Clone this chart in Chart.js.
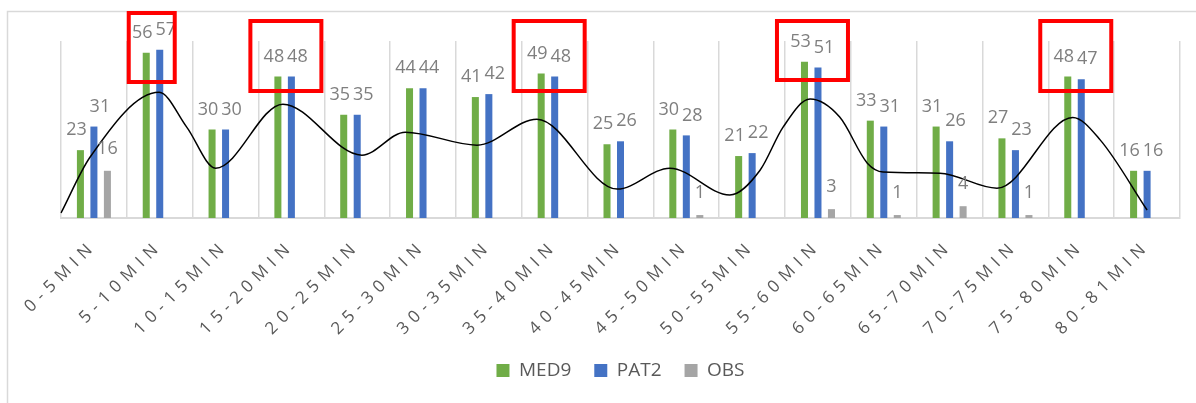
<!DOCTYPE html>
<html>
<head>
<meta charset="utf-8">
<script src="https://cdn.jsdelivr.net/npm/chart.js@4.4.1/dist/chart.umd.min.js"></script>
<style>
    body { margin: 0; background: #fff; }
    canvas { display: block; }
</style>
</head>
<body>
<canvas id="minuteChart" width="1196" height="403"></canvas>
<script>
const categories = ["0-5MIN", "5-10MIN", "10-15MIN", "15-20MIN", "20-25MIN", "25-30MIN",
    "30-35MIN", "35-40MIN", "40-45MIN", "45-50MIN", "50-55MIN", "55-60MIN",
    "60-65MIN", "65-70MIN", "70-75MIN", "75-80MIN", "80-81MIN"];

const med9 = [23, 56, 30, 48, 35, 44, 41, 49, 25, 30, 21, 53, 33, 31, 27, 48, 16];
const pat2 = [31, 57, 30, 48, 35, 44, 42, 48, 26, 28, 22, 51, 31, 26, 23, 47, 16];
const obs = [16, null, null, null, null, null, null, null, null, 1, null, 3, 1, 4, 1, null, null];

// hand drawn curve over the bars (x in category index units)
const curveX = [-0.5, -0.06, 0.99, 1.41, 1.85, 2.87, 4.07, 4.73, 5.82, 6.73, 7.95, 8.75,
    9.66, 10.12, 10.47, 10.88, 11.33, 11.75, 11.99, 12.85, 13.72, 14.87, 15.29, 16];
const curveY = [1.7, 20.6, 42.6, 30.8, 16.9, 38.6, 21.3, 29.1, 24.7, 33.5, 9.8, 16.9,
    7.8, 16.2, 30.8, 40.3, 34.2, 18.6, 15.6, 15.2, 10.1, 34.1, 26.4, 2.7];

const highlighted = ["5-10MIN", "15-20MIN", "35-40MIN", "55-60MIN", "75-80MIN"];

const frame = {
    id: "frame",
    beforeDraw(chart) {
        const ctx = chart.ctx;
        ctx.save();
        ctx.strokeStyle = "#d9d9d9";
        ctx.lineWidth = 1.5;
        ctx.beginPath();
        ctx.moveTo(7.5, chart.height);
        ctx.lineTo(7.5, 11.5);
        ctx.lineTo(chart.width, 11.5);
        ctx.stroke();
        ctx.restore();

        // spaced out tick text like the excel axis
        const x = chart.scales.x;
        if (!x._spaced) {
            const orig = x.drawLabels;
            x.drawLabels = function (area) {
                this.ctx.save();
                this.ctx.letterSpacing = "6px";
                orig.call(this, area);
                this.ctx.restore();
            };
            x._spaced = true;
        }
    }
};

const valueLabels = {
    id: "valueLabels",
    afterDatasetsDraw(chart) {
        const ctx = chart.ctx;
        const shift = [-4, 6, 0];
        const lift = [20, 20, 22];
        ctx.save();
        ctx.font = "18px 'Open Sans'";
        ctx.fillStyle = "#7f7f7f";
        ctx.textAlign = "center";
        ctx.textBaseline = "middle";
        for (let d = 0; d < 3; d++) {
            const meta = chart.getDatasetMeta(d);
            const values = chart.data.datasets[d].data;
            meta.data.forEach((bar, i) => {
                if (values[i] == null) return;
                ctx.fillText(values[i], bar.x + shift[d], bar.y - lift[d]);
            });
        }
        ctx.restore();
    }
};

const redBoxes = {
    id: "redBoxes",
    afterDraw(chart) {
        const ctx = chart.ctx;
        const x = chart.scales.x;
        ctx.save();
        ctx.strokeStyle = "#ff0000";
        ctx.lineWidth = 4;
        highlighted.forEach(label => {
            const i = categories.indexOf(label);
            const c = x.getPixelForValue(i);
            const first = i === 1;
            const left = first ? c - 31 : c - 41;
            const right = first ? c + 15 : c + 30;
            const top = first ? 13 : 21;
            const bottom = first ? 82 : (i === 11 ? 80 : 91);
            ctx.strokeRect(left, top, right - left, bottom - top);
        });
        ctx.restore();
    }
};

const ctx = document.getElementById("minuteChart");

new Chart(ctx, {
    type: "bar",
    data: {
        labels: categories,
        datasets: [
            {
                label: "MED9",
                data: med9,
                backgroundColor: "#70ad47",
                order: 1
            },
            {
                label: "PAT2",
                data: pat2,
                backgroundColor: "#4472c4",
                order: 1
            },
            {
                label: "OBS",
                data: obs,
                backgroundColor: "#a5a5a5",
                order: 1
            },
            {
                type: "line",
                label: "curve",
                // fractional category positions, so no parsing
                parsing: false,
                data: curveX.map((v, i) => ({ x: v, y: curveY[i] })),
                borderColor: "#000",
                borderWidth: 1.5,
                pointRadius: 0,
                cubicInterpolationMode: "monotone",
                order: 0
            }
        ]
    },
    options: {
        responsive: false,
        animation: false,
        layout: {
            padding: { left: 61, right: 16, top: 41, bottom: 13 }
        },
        datasets: {
            bar: {
                categoryPercentage: 0.615,
                barPercentage: 0.52
            }
        },
        scales: {
            x: {
                grid: {
                    color: "#d9d9d9",
                    lineWidth: 1.5,
                    drawTicks: false
                },
                border: { color: "#d9d9d9", width: 2 },
                ticks: {
                    color: "#595959",
                    font: { family: "'Open Sans'", size: 17 },
                    minRotation: 45,
                    maxRotation: 45,
                    autoSkip: false,
                    padding: 18
                },
                afterFit(scale) {
                    scale.height = 120;
                    scale.paddingLeft = 0;
                    scale.paddingRight = 0;
                }
            },
            y: {
                display: false,
                min: 0,
                max: 60
            }
        },
        plugins: {
            legend: {
                position: "bottom",
                labels: {
                    filter: item => item.datasetIndex < 3,
                    boxWidth: 13,
                    boxHeight: 13,
                    padding: 23,
                    color: "#595959",
                    font: { family: "'Open Sans'", size: 19 }
                }
            },
            tooltip: { enabled: false }
        }
    },
    plugins: [frame, valueLabels, redBoxes]
});
</script>
</body>
</html>
